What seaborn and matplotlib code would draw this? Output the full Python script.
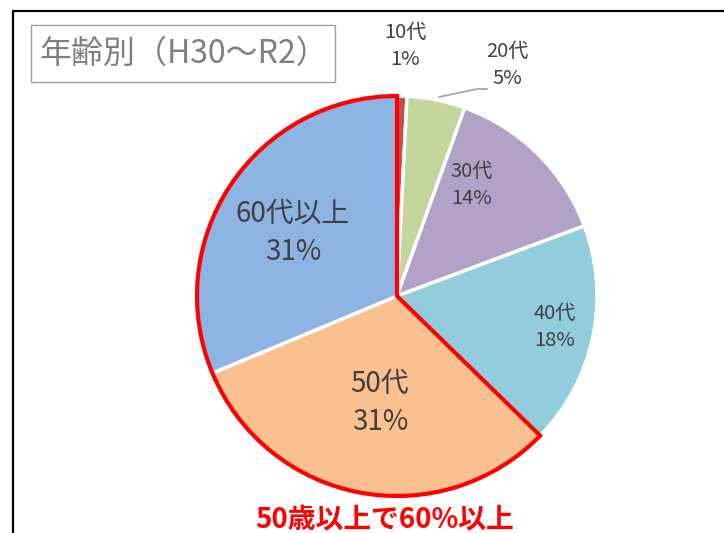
import matplotlib
matplotlib.use("Agg")
import matplotlib.pyplot as plt
import seaborn as sns
import numpy as np
from matplotlib.patches import Wedge, Rectangle
from matplotlib.lines import Line2D

# data (clockwise from top), percent of total
ages = ["10代", "20代", "30代", "40代", "50代", "60代以上"]
shares = [0.8, 4.7, 13.8, 18.0, 31.4, 31.3]
colors = ["#C0504D", "#C3D69B", "#B3A2C7", "#93CDDD", "#FAC090", "#8EB4E3"]
# label placement (pie radius = 1) and font size
label_xy = [(0.04, 1.25), (0.55, 1.155), (0.375, 0.555), (0.79, -0.155), (-0.085, -0.535), (-0.52, 0.315)]
label_size = [14.5, 14.5, 14.5, 14.5, 20, 20]
title = "年齢別（H30〜R2）"
note = "50歳以上で60%以上"

sns.set_theme(style="white")
plt.rcParams["font.family"] = ["Noto Sans CJK JP", "DejaVu Sans"]

W, H = 724, 533
cx, cy, R = 397, 296, 200

fig = plt.figure(figsize=(W / 100, H / 100), dpi=100)
ax = fig.add_axes([0, 0, 1, 1])
ax.axis("off")

wedges, _ = ax.pie(
    shares,
    colors=colors,
    startangle=90,
    counterclock=False,
    radius=1,
    wedgeprops={"edgecolor": "white", "linewidth": 2.5},
)
ax.set_xlim(-cx / R, (W - cx) / R)
ax.set_ylim(-(H - cy) / R, cy / R)
ax.set_aspect("auto")

# labels
for name, val, (lx, ly), fs in zip(ages, shares, label_xy, label_size):
    ax.text(lx, ly, f"{name}\n{round(val):d}%", ha="center", va="center",
            fontsize=fs, color="#404040", linespacing=1.35)

# leader line for 20代
ax.add_line(Line2D([0.21, 0.40, 0.45], [0.995, 1.035, 1.035], color="#A6A6A6", lw=1.3))

# red outline around 50代 + 60代以上
start = 90 - 360 * sum(shares[:4]) / sum(shares)
ax.add_patch(Wedge((0, 0), 1.0, 90, start + 360, fill=False,
                   edgecolor="#FF0000", linewidth=3.0, joinstyle="miter"))

# frame lines
def fx(px):
    return px / W

def fy(py):
    return 1 - py / H

fig.add_artist(Line2D([fx(13), fx(13)], [fy(11), fy(H)], color="black", lw=1.6))
fig.add_artist(Line2D([fx(13), fx(W)], [fy(11), fy(11)], color="black", lw=1.6))

# title box
fig.add_artist(Rectangle((fx(31), fy(82)), fx(335) - fx(31), fy(25) - fy(82),
                         fill=False, edgecolor="#A0A0A0", lw=1.0))
fig.text(fx(184), fy(54), title, ha="center", va="center", fontsize=23, color="#7F7F7F")

# note at bottom
fig.text(fx(385), fy(519), note, ha="center", va="center", fontsize=20,
         color="#FF0000", fontweight="bold")

fig.savefig("out.png", dpi=100)
